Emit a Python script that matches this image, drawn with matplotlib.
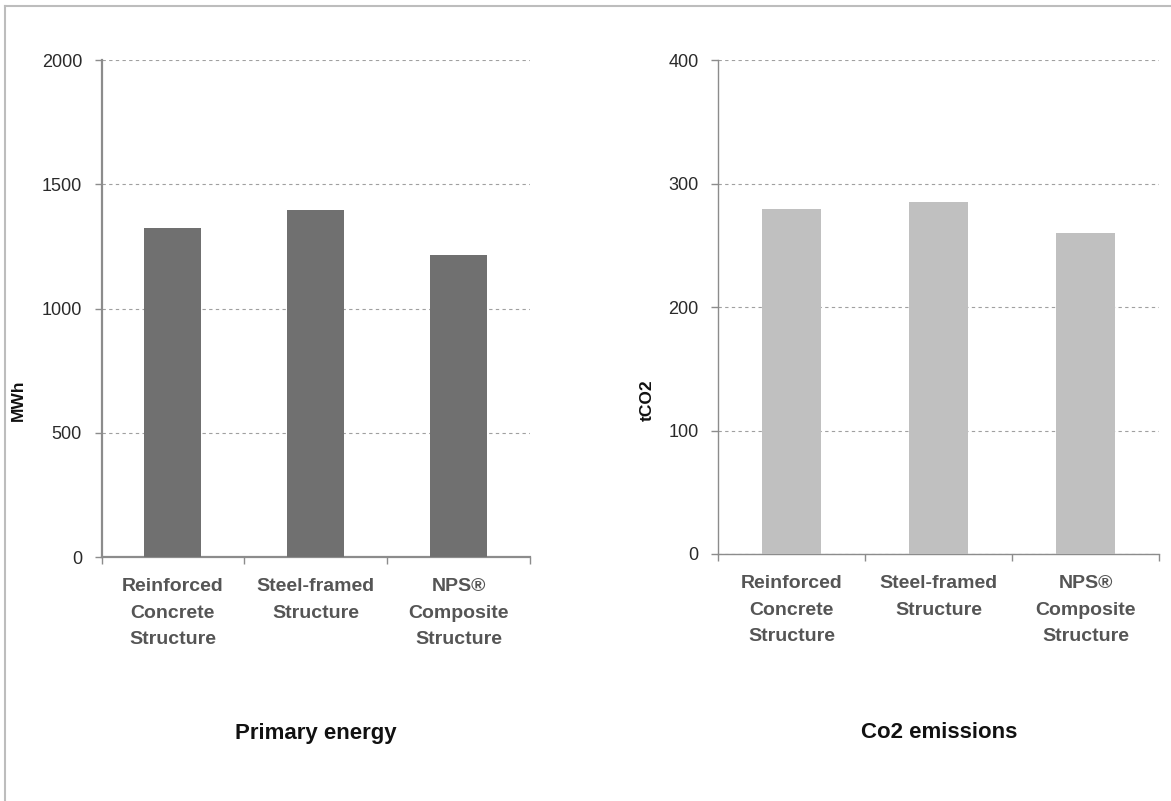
import matplotlib
matplotlib.use("Agg")
import matplotlib.pyplot as plt
from matplotlib.lines import Line2D

plt.rcParams['font.family'] = ['Liberation Sans', 'DejaVu Sans']

categories = ["Reinforced\nConcrete\nStructure", "Steel-framed\nStructure", "NPS®\nComposite\nStructure"]
primary_energy_mwh = [1325, 1395, 1215]
co2_emissions_t = [279, 285, 260]
energy_ticks = [0, 500, 1000, 1500, 2000]
co2_ticks = [0, 100, 200, 300, 400]

W, H = 1171, 801
fig = plt.figure(figsize=(W / 100, H / 100), dpi=100)


def px_axes(x0, x1, ytop, ybot):
    return fig.add_axes([x0 / W, 1 - ybot / H, (x1 - x0) / W, (ybot - ytop) / H])


def style_panel(ax, values, ticks, color, ylabel, spine_lw, label_x):
    x = range(len(values))
    ax.bar(x, values, width=0.4, color=color, zorder=3)
    ax.set_xlim(-0.5, len(values) - 0.5)
    ax.set_ylim(ticks[0], ticks[-1])
    ax.set_yticks(ticks)
    ax.set_yticklabels([str(t) for t in ticks], fontsize=13, color="#2a2a2a")
    ax.yaxis.grid(True, linestyle=(0, (3, 3)), color="#a0a0a0", linewidth=0.8, zorder=0)
    ax.set_axisbelow(True)
    for side in ("top", "right"):
        ax.spines[side].set_visible(False)
    for side in ("left", "bottom"):
        ax.spines[side].set_color("#8c8c8c")
        ax.spines[side].set_linewidth(spine_lw)
    ax.tick_params(axis="y", length=5, width=1, color="#8c8c8c", pad=9)
    # category boundaries carry the tick marks, centres carry the labels
    ax.set_xticks([i - 0.5 for i in range(len(values) + 1)])
    ax.set_xticklabels([])
    ax.tick_params(axis="x", which="major", length=5, width=1, color="#8c8c8c")
    ax.set_xticks(list(x), minor=True)
    ax.set_xticklabels(categories, minor=True, fontsize=14, fontweight="bold",
                       color="#555555", linespacing=1.75)
    ax.tick_params(axis="x", which="minor", length=0, pad=15)
    ax.set_ylabel(ylabel, fontsize=12.5, fontweight="bold", color="#111111")
    ax.yaxis.set_label_coords(label_x, 0.5, transform=fig.transFigure)


ax1 = px_axes(101.5, 530, 60, 557)
style_panel(ax1, primary_energy_mwh, energy_ticks, "#707070", "MWh", 1.6, 26 / W)

ax2 = px_axes(718, 1159, 60, 554)
style_panel(ax2, co2_emissions_t, co2_ticks, "#c0c0c0", "tCO2", 1.0, 655 / W)

fig.text(315.5 / W, 1 - 733 / H, "Primary energy", ha="center", va="center",
         fontsize=16, fontweight="bold", color="#111111")
fig.text(939 / W, 1 - 733 / H, "Co2 emissions", ha="center", va="center",
         fontsize=16, fontweight="bold", color="#111111")

# frame lines along the top and left edges
fig.add_artist(Line2D([5 / W, 1], [1 - 6 / H, 1 - 6 / H], transform=fig.transFigure,
                      color="#bdbdbd", linewidth=1.5))
fig.add_artist(Line2D([5 / W, 5 / W], [0, 1 - 6 / H], transform=fig.transFigure,
                      color="#bdbdbd", linewidth=1.5))

fig.savefig("out.png", dpi=100, facecolor="white")
